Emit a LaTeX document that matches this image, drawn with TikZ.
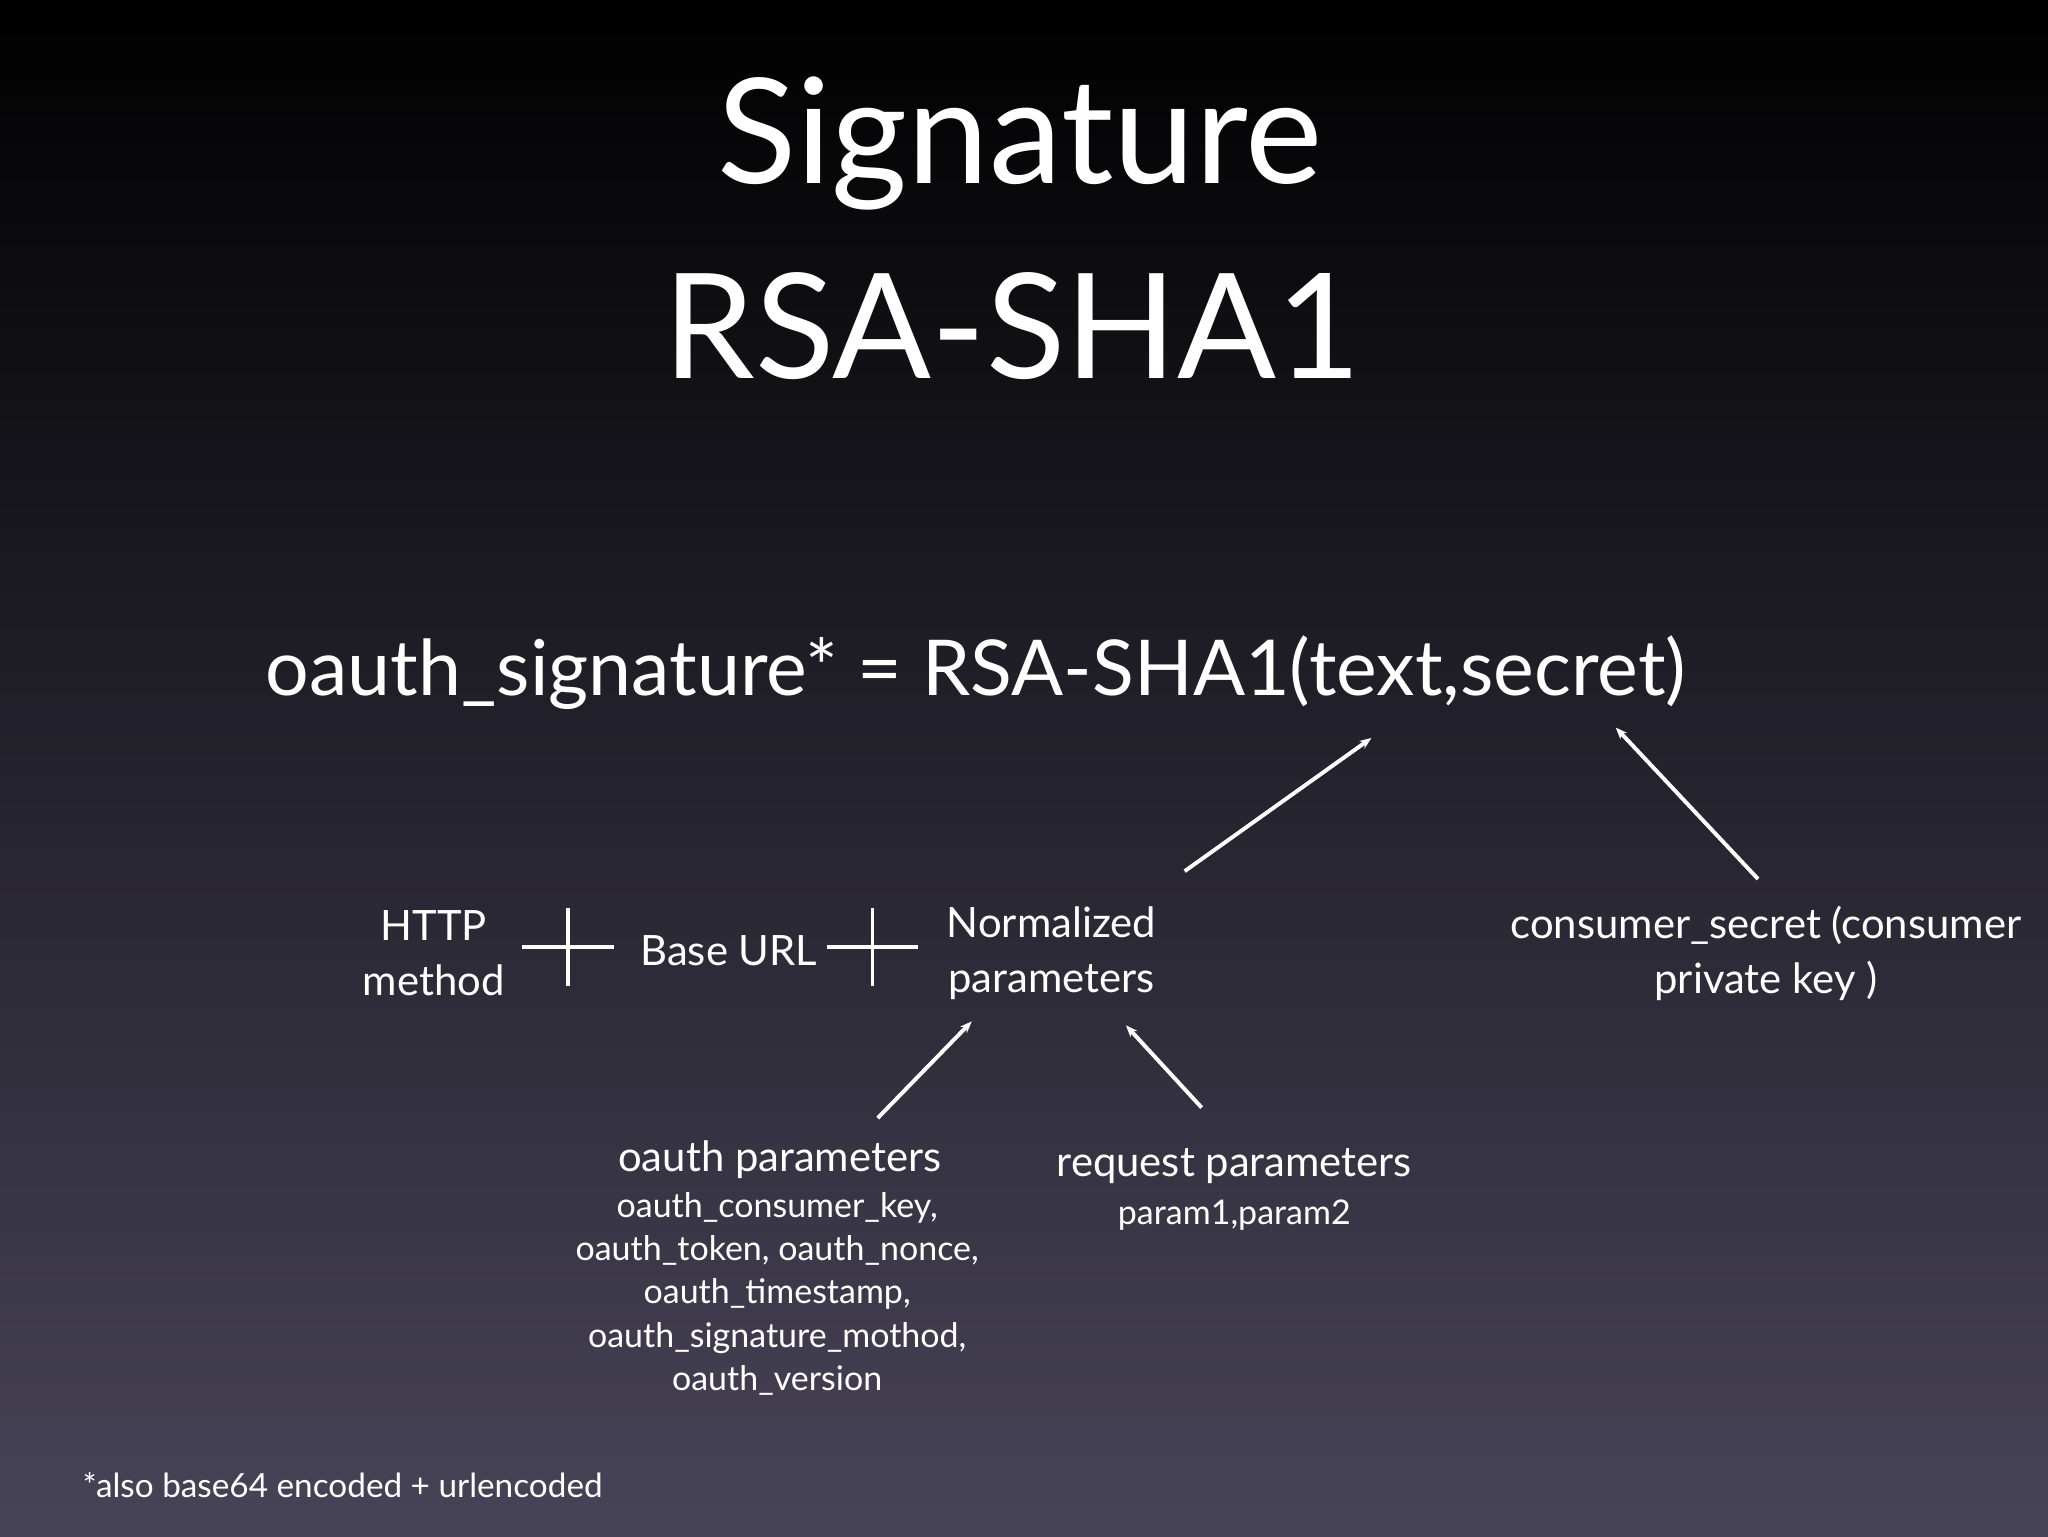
\documentclass[tikz,border=0pt]{standalone}
\usepackage{fontspec}
\setmainfont{Lato}
\usetikzlibrary{arrows.meta}
\begin{document}
\begin{tikzpicture}[x=1pt,y=-1pt,
  txt/.style={text=white,inner sep=0pt,align=center,font=\fontsize{32}{42}\selectfont},
  small/.style={text=white,inner sep=0pt,align=center,font=\fontsize{26}{33}\selectfont},
  arr/.style={draw=white,line width=3pt,-{Stealth[length=9pt,width=7pt]}},
  plus/.style={draw=white,line width=3pt}]
\shade[top color=black,middle color=black!70!blue!20!black,bottom color={rgb,255:red,72;green,68;blue,88},shading angle=0] (0,0) rectangle (1568,1176);
\useasboundingbox (0,0) rectangle (1568,1176);
\node[txt,font=\fontsize{112}{120}\selectfont] (t1) at (781,110) {Signature};
\node[txt,font=\fontsize{112}{120}\selectfont] (t2) at (775,250) {RSA-SHA1};
\node[txt,font=\fontsize{59}{64}\selectfont] (f) at (747,515) {oauth\_signature* = RSA-SHA1(text,secret)};
\coordinate (text) at (1050,565);
\coordinate (secret) at (1237,557);
\node[txt] (http) at (332,730) {HTTP\\method};
\node[txt] (base) at (558,728) {Base URL};
\node[txt] (norm) at (805,730) {Normalized\\parameters};
\node[txt] (cs) at (1352,730) {consumer\_secret (consumer\\private key )};
\coordinate (p1) at (435,725); \coordinate (p2) at (668,725);
\draw[plus] ([xshift=-35pt]p1) -- ([xshift=35pt]p1) ([yshift=-30pt]p1) -- ([yshift=30pt]p1);
\draw[plus] ([xshift=-35pt]p2) -- ([xshift=35pt]p2) ([yshift=-30pt]p2) -- ([yshift=30pt]p2);
\coordinate (na) at (907,667);
\coordinate (ca) at (1346,673);
\draw[arr] (na) -- (text);
\draw[arr] (ca) -- (secret);
\node[txt] (op) at (597,888) {oauth parameters};
\node[small,anchor=north] (opl) at (595,913) {oauth\_consumer\_key,\\oauth\_token, oauth\_nonce,\\oauth\_timestamp,\\oauth\_signature\_mothod,\\oauth\_version};
\node[txt] (rp) at (945,893) {request parameters};
\node[small] (rpl) at (945,930) {param1,param2};
\coordinate (oa) at (672,856); \coordinate (oe) at (744,782);
\coordinate (ra) at (920,848); \coordinate (re) at (862,785);
\draw[arr] (oa) -- (oe);
\draw[arr] (ra) -- (re);
\node[small,anchor=west,font=\fontsize{25.5}{30}\selectfont] (foot) at (63,1137) {*also base64 encoded + urlencoded};
\end{tikzpicture}
\end{document}
